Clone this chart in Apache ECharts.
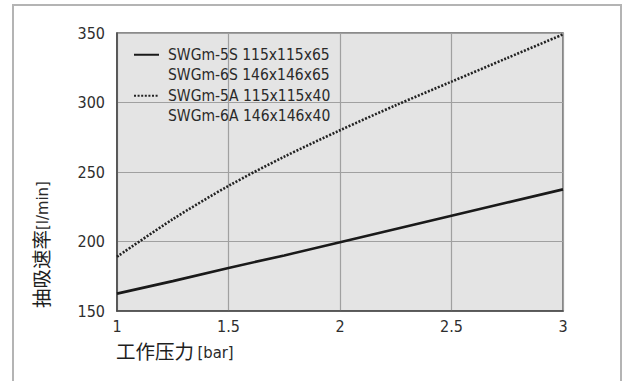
<!DOCTYPE html>
<html>
<head>
<meta charset="utf-8">
<script src="https://cdn.jsdelivr.net/npm/echarts@6/dist/echarts.min.js"></script>
<style>
html,body{margin:0;padding:0;background:#fff;}
#frame{position:absolute;left:12px;top:4px;width:610px;height:400px;border:2px solid #b4b4b4;border-bottom:none;box-sizing:border-box;}
#chart{position:absolute;left:0;top:0;width:628px;height:381px;}
</style>
</head>
<body>
<div id="frame"></div>
<div id="chart"></div>
<script>
const pressure = [1, 1.25, 1.5, 1.75, 2, 2.25, 2.5, 2.75, 3];
const seriesSNames = 'SWGm-5S 115x115x65\nSWGm-6S 146x146x65';
const seriesANames = 'SWGm-5A 115x115x40\nSWGm-6A 146x146x40';
const seriesS = [162.5, 171.5, 181, 190, 199.5, 209, 218.5, 228, 237.5];
const seriesA = [189, 216, 240, 261, 280, 298, 315, 332, 349];
const xTicks = [1, 1.5, 2, 2.5, 3];
const yTicks = [150, 200, 250, 300, 350];
const xTitle = '工作压力';
const xUnit = '[bar]';
const yTitle = '抽吸速率';
const yUnit = '[l/min]';

const numFont = '"DejaVu Sans Condensed", "DejaVu Sans", sans-serif';
const cjkFont = '"Noto Sans CJK SC", sans-serif';
const chart = echarts.init(document.getElementById('chart'), null, {renderer: 'svg'});
chart.setOption({
  animation: false,
  grid: {left: 117, right: 65, top: 33, bottom: 70, show: true, backgroundColor: '#e4e4e4', borderColor: '#666', borderWidth: 1.5},
  xAxis: {
    type: 'value', min: xTicks[0], max: xTicks[xTicks.length - 1], interval: 0.5,
    axisLine: {show: true, lineStyle: {color: '#4a4a4a', width: 1.6}},
    axisTick: {show: false},
    splitLine: {show: true, lineStyle: {color: '#a0a0a0', width: 1.2}},
    axisLabel: {color: '#2e2e2e', fontFamily: numFont, fontSize: 16, margin: 7, formatter: v => String(v)}
  },
  yAxis: {
    type: 'value', min: yTicks[0], max: yTicks[yTicks.length - 1], interval: 50,
    axisLine: {show: true, lineStyle: {color: '#4a4a4a', width: 1.6}},
    axisTick: {show: false},
    splitLine: {show: true, lineStyle: {color: '#a0a0a0', width: 1.2}},
    axisLabel: {color: '#2e2e2e', fontFamily: numFont, fontSize: 16, margin: 12}
  },
  legend: {
    orient: 'vertical', left: 128, top: 19,
    itemWidth: 25, itemHeight: 10, itemGap: -20.5,
    formatter: n => '\n' + n,
    textStyle: {color: '#2a2a2a', fontFamily: numFont, fontSize: 15.5, lineHeight: 20.5, padding: [0, 0, 0, 4]},
    itemStyle: {opacity: 0}
  },
  graphic: [
    {type: 'text', left: 116, top: 341, style: {
      text: '{a|' + xTitle + '}{s| }{b|' + xUnit + '}',
      rich: {a: {fontFamily: cjkFont, fontSize: 19.5, fill: '#1e1e1e', verticalAlign: 'bottom', lineHeight: 22},
             s: {fontFamily: numFont, fontSize: 12, verticalAlign: 'bottom', lineHeight: 22},
             b: {fontFamily: numFont, fontSize: 16.5, fill: '#2a2a2a', verticalAlign: 'bottom', lineHeight: 22}}
    }},
    {type: 'text', left: 31, bottom: 73, rotation: Math.PI / 2, style: {
      text: '{a|' + yTitle + '}{b|' + yUnit + '}',
      rich: {a: {fontFamily: cjkFont, fontSize: 19.5, fill: '#1e1e1e', verticalAlign: 'bottom', lineHeight: 24},
             b: {fontFamily: numFont, fontSize: 16.5, fill: '#2a2a2a', verticalAlign: 'bottom', lineHeight: 24}}
    }}
  ],
  series: [
    {name: seriesSNames, type: 'line', symbol: 'none', data: pressure.map((p, i) => [p, seriesS[i]]),
     lineStyle: {color: '#1a1a1a', width: 2.6}, itemStyle: {color: '#1a1a1a'}},
    {name: seriesANames, type: 'line', symbol: 'none', smooth: 0.3, data: pressure.map((p, i) => [p, seriesA[i]]),
     lineStyle: {color: '#222', width: 2.6, type: [2, 1.6]}, itemStyle: {color: '#222'}}
  ]
});
</script>
</body>
</html>
